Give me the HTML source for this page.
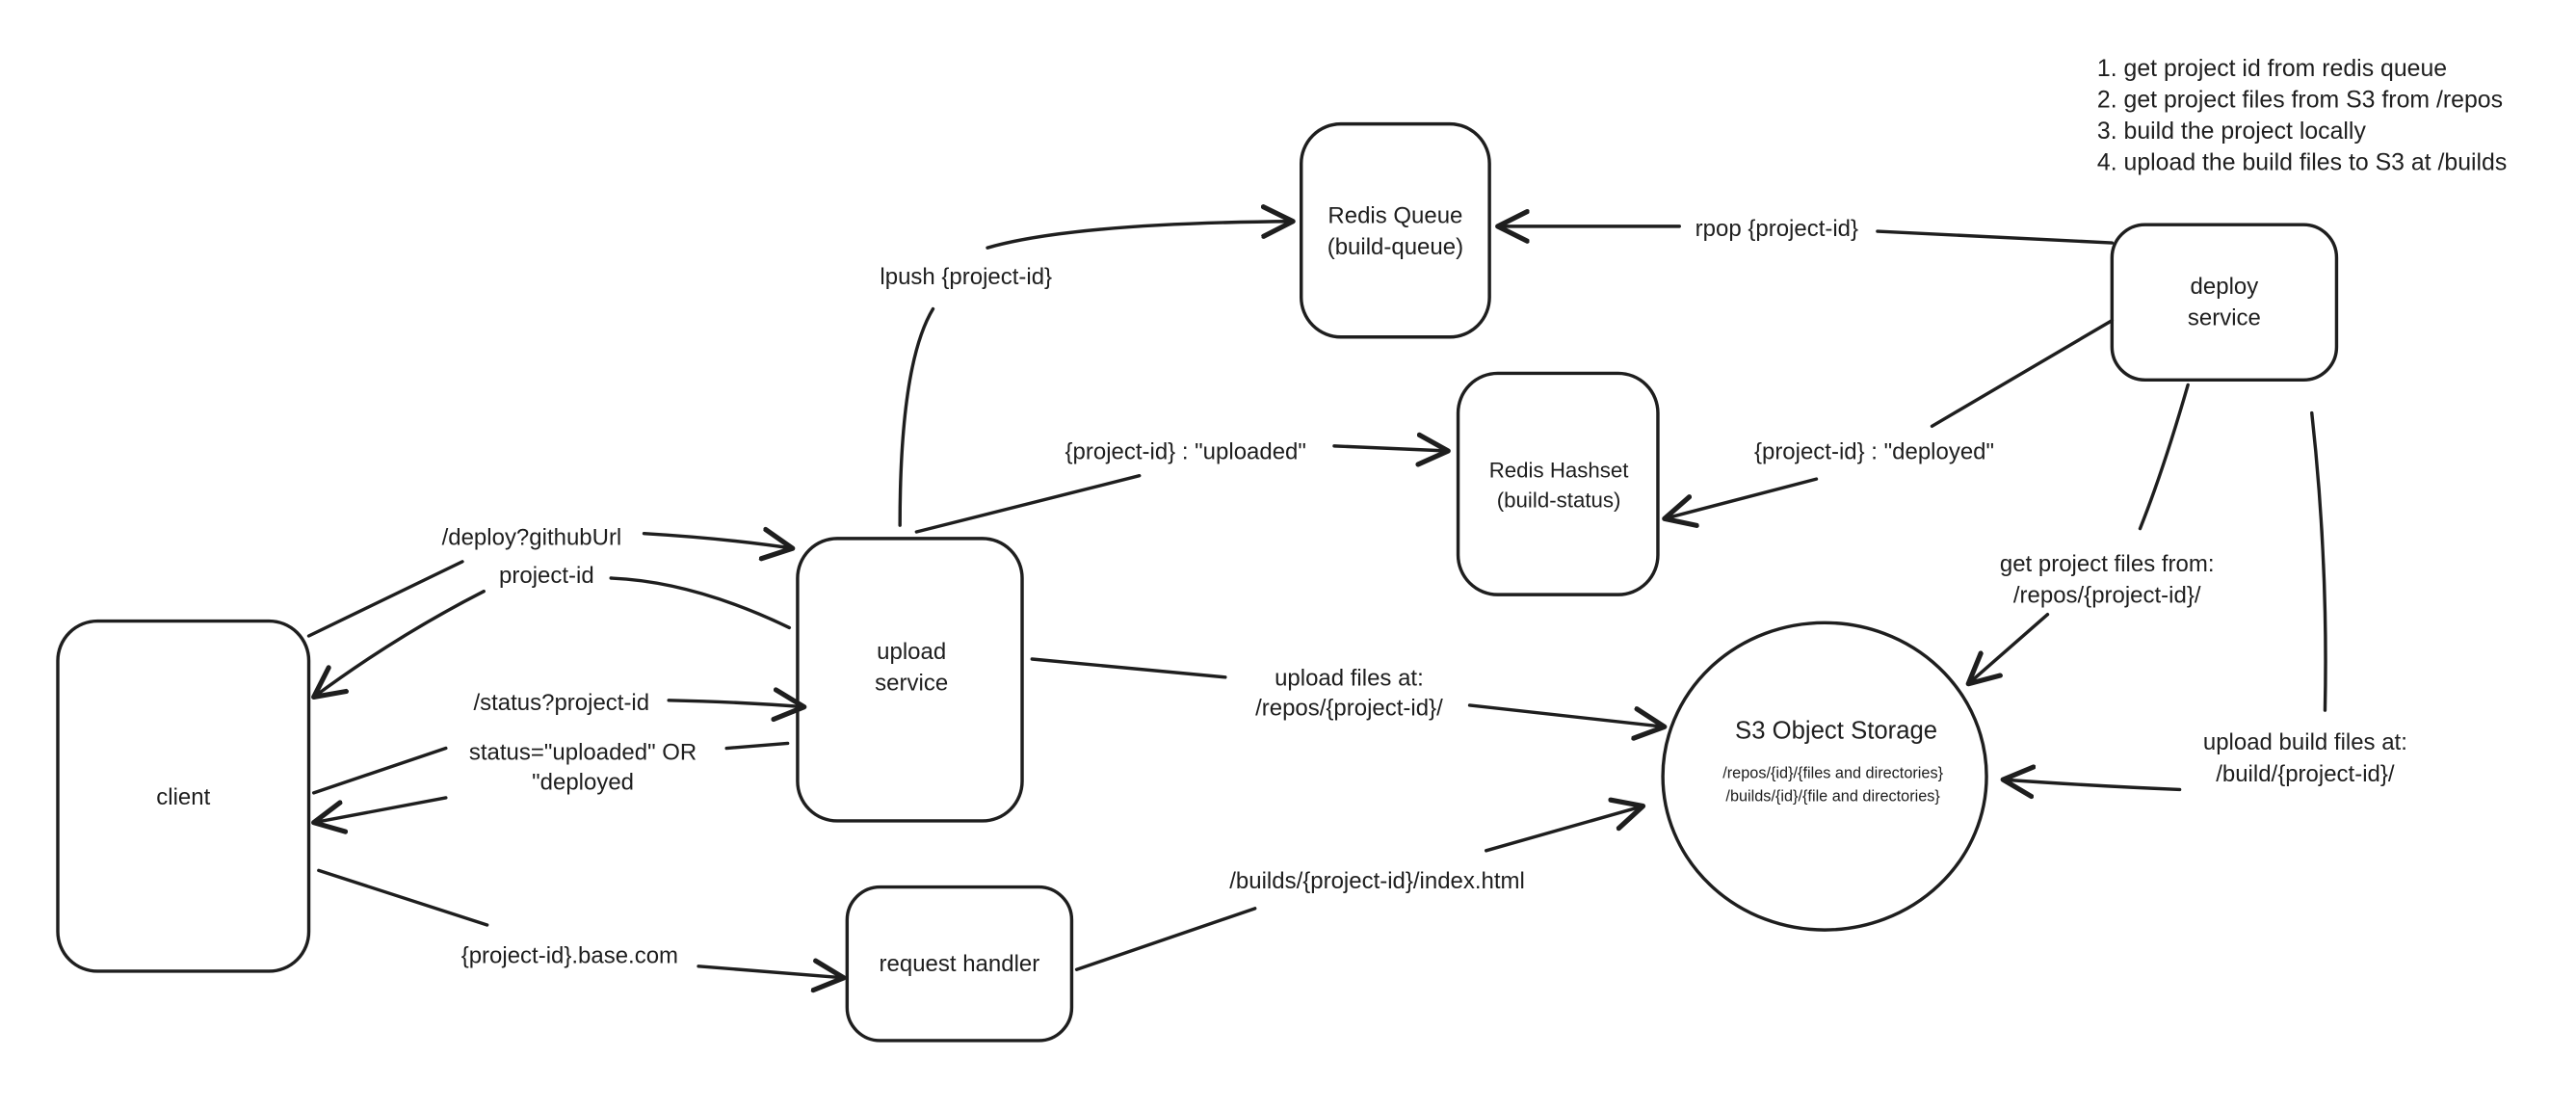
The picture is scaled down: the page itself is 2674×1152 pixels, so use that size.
<!DOCTYPE html>
<html><head><meta charset="utf-8"><style>
html,body{margin:0;padding:0;background:#fff;}
svg{display:block;}
text{font-family:"Liberation Sans",sans-serif;fill:#1e1e1e;}
</style></head><body>
<svg width="2674" height="1152" viewBox="0 0 1560 672" xmlns="http://www.w3.org/2000/svg">
<defs>
<marker id="a" markerUnits="userSpaceOnUse" markerWidth="22" markerHeight="22" refX="14" refY="8" orient="auto" viewBox="0 0 16 16">
<path d="M1,1.5 L14,8 L1,14.5" fill="none" stroke="#1e1e1e" stroke-width="2.2" stroke-linecap="round" stroke-linejoin="round"/>
</marker>
</defs>
<g fill="none" stroke="#1e1e1e" stroke-width="2" stroke-linecap="round">
<rect x="35" y="376" width="152" height="212" rx="24"/>
<rect x="483" y="326" width="136" height="171" rx="24"/>
<rect x="513" y="537" width="136" height="93" rx="20"/>
<rect x="788" y="75" width="114" height="129" rx="24"/>
<rect x="883" y="226" width="121" height="134" rx="24"/>
<rect x="1279" y="136" width="136" height="94" rx="20"/>
<ellipse cx="1105" cy="470" rx="98" ry="93"/>
<path d="M187,385 L280,340"/>
<path d="M390,323 Q440,326 480,332" marker-end="url(#a)"/>
<path d="M478,380 Q420,352 370,350"/>
<path d="M293,358 Q240,385 190,422" marker-end="url(#a)"/>
<path d="M190,480 L270,453"/>
<path d="M405,424 Q450,425 487,428" marker-end="url(#a)"/>
<path d="M477,450 L440,453"/>
<path d="M270,483 L190,498" marker-end="url(#a)"/>
<path d="M193,527 L295,560"/>
<path d="M423,585 L511,592" marker-end="url(#a)"/>
<path d="M652,587 L760,550"/>
<path d="M900,515 L995,488" marker-end="url(#a)"/>
<path d="M625,399 L742,410"/>
<path d="M890,427 L1008,440" marker-end="url(#a)"/>
<path d="M545,318 Q545,220 565,187"/>
<path d="M598,150 Q650,135 783,134" marker-end="url(#a)"/>
<path d="M555,322 L690,288"/>
<path d="M808,270 L877,273" marker-end="url(#a)"/>
<path d="M1279,147 L1137,140"/>
<path d="M1017,137 L907,137" marker-end="url(#a)"/>
<path d="M1279,194 L1170,258"/>
<path d="M1100,290 L1008,314" marker-end="url(#a)"/>
<path d="M1325,233 Q1310,285 1296,320"/>
<path d="M1240,372 L1192,414" marker-end="url(#a)"/>
<path d="M1400,250 Q1410,340 1408,430"/>
<path d="M1320,478 Q1270,476 1213,472" marker-end="url(#a)"/>
</g>
<g font-size="14" text-anchor="middle">
<text x="111" y="487">client</text>
<text x="552" y="399">upload</text>
<text x="552" y="418">service</text>
<text x="581" y="588">request handler</text>
<text x="845" y="135">Redis Queue</text>
<text x="845" y="154">(build-queue)</text>
<text x="944" y="289" font-size="13">Redis Hashset</text>
<text x="944" y="307" font-size="13">(build-status)</text>
<text x="1347" y="178">deploy</text>
<text x="1347" y="197">service</text>
<text x="1112" y="447" font-size="15">S3 Object Storage</text>
<text x="1110" y="471" font-size="9.5">/repos/{id}/{files and directories}</text>
<text x="1110" y="485" font-size="9.5">/builds/{id}/{file and directories}</text>
<text x="322" y="330">/deploy?githubUrl</text>
<text x="331" y="353">project-id</text>
<text x="340" y="430">/status?project-id</text>
<text x="353" y="460">status="uploaded" OR</text>
<text x="353" y="478">"deployed</text>
<text x="345" y="583">{project-id}.base.com</text>
<text x="834" y="538">/builds/{project-id}/index.html</text>
<text x="817" y="415">upload files at:</text>
<text x="817" y="433">/repos/{project-id}/</text>
<text x="585" y="172">lpush {project-id}</text>
<text x="718" y="278">{project-id} : "uploaded"</text>
<text x="1076" y="143">rpop {project-id}</text>
<text x="1135" y="278">{project-id} : "deployed"</text>
<text x="1276" y="346">get project files from:</text>
<text x="1276" y="365">/repos/{project-id}/</text>
<text x="1396" y="454">upload build files at:</text>
<text x="1396" y="473">/build/{project-id}/</text>
</g>
<g font-size="14.5">
<text x="1270" y="46">1. get project id from redis queue</text>
<text x="1270" y="65">2. get project files from S3 from /repos</text>
<text x="1270" y="84">3. build the project locally</text>
<text x="1270" y="103">4. upload the build files to S3 at /builds</text>
</g>
</svg>
</body></html>
